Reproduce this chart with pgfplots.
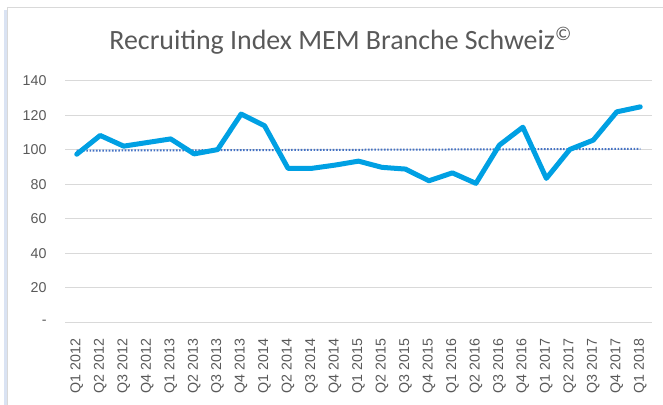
\documentclass[border=0pt]{standalone}
\usepackage{fontspec}
\setmainfont{Liberation Sans}
\newfontfamily\titlefont{Carlito}
\usepackage{pgfplots}
\pgfplotsset{compat=1.18}
\definecolor{lineblue}{RGB}{0,160,227}
\definecolor{trendblue}{RGB}{68,114,196}
\definecolor{gridgray}{RGB}{217,217,217}
\definecolor{txtgray}{RGB}{89,89,89}
\definecolor{stripblue}{RGB}{218,227,243}
\begin{document}
\begin{tikzpicture}
\useasboundingbox (0bp,0bp) rectangle (663bp,405bp);
\fill[stripblue] (4bp,0bp) rectangle (7bp,394.5bp);
\draw[gridgray, line width=1bp] (7.5bp,0bp) -- (7.5bp,397.5bp) -- (663bp,397.5bp);
\node[anchor=base, font=\titlefont\fontsize{28}{32}\selectfont, text=txtgray, inner sep=0pt] at (340.6bp,355.7bp) {Recruiting Index MEM Branche Schweiz\textsuperscript{©}};
\begin{axis}[
  at={(65bp,82.7bp)}, anchor=south west,
  scale only axis, width=587bp, height=241.3bp,
  xmin=-0.5, xmax=24.5, ymin=0, ymax=140,
  axis line style={draw=none},
  major tick length=0pt,
  ytick={0,20,40,60,80,100,120,140},
  yticklabels={-\hspace{9bp},20,40,60,80,100,120,140},
  xtick={0,...,24},
  xticklabels={Q1 2012,Q2 2012,Q3 2012,Q4 2012,Q1 2013,Q2 2013,Q3 2013,Q4 2013,Q1 2014,Q2 2014,Q3 2014,Q4 2014,Q1 2015,Q2 2015,Q3 2015,Q4 2015,Q1 2016,Q2 2016,Q3 2016,Q4 2016,Q1 2017,Q2 2017,Q3 2017,Q4 2017,Q1 2018},
  tick label style={font=\fontsize{14.3}{17}\selectfont, text=txtgray, inner sep=0pt},
  xticklabel style={rotate=90, anchor=east},
  yticklabel style={anchor=east},
  xticklabel shift=16bp,
  yticklabel shift=18.3bp,
  ymajorgrids, grid style={gridgray, line width=1bp},
  clip=false,
]
\addplot[trendblue, line width=2bp, dash pattern=on 1.6bp off 1.6bp] coordinates {(0,99.6) (24,100.6)};
\addplot[lineblue, line width=5bp, line join=round, line cap=round] coordinates {
(0,97.5) (1,108.4) (2,102.2) (3,104.3) (4,106.4) (5,97.7) (6,100.2) (7,120.8) (8,114)
(9,89.3) (10,89.3) (11,91.2) (12,93.5) (13,89.9) (14,88.9) (15,82.1) (16,86.7) (17,80.6)
(18,102.8) (19,113.2) (20,83.5) (21,100.3) (22,105.7) (23,122.1) (24,125)
};
\end{axis}
\end{tikzpicture}
\end{document}
